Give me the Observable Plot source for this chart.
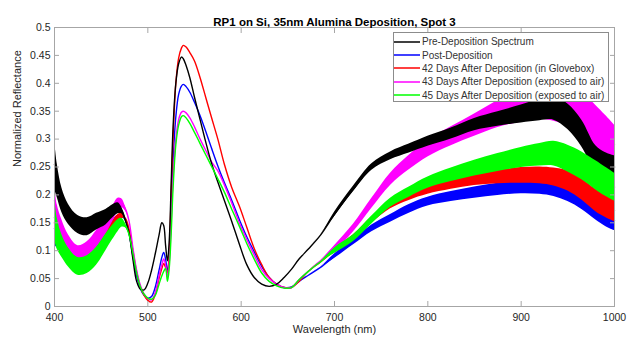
<!DOCTYPE html>
<html>
<head>
<meta charset="utf-8">
<script src="https://cdn.jsdelivr.net/npm/d3@7"></script>
<script src="https://cdn.jsdelivr.net/npm/@observablehq/plot@0.6"></script>
<style>
  html, body { margin: 0; padding: 0; background: #fff; }
  #wrap { position: relative; width: 627px; height: 342px; font-family: "Liberation Sans", Arial, sans-serif; }
  #legend { position: absolute; left: 393px; top: 32px; width: 216px; height: 70px; border: 1px solid #8c8c8c; background: #fff; box-sizing: border-box; padding-top: 2px; }
  .row { display: flex; align-items: center; height: 13.4px; font-size: 10px; color: #333; white-space: nowrap; }
  .row svg { display: block; margin-right: 2px; flex: none; }
</style>
</head>
<body>
<div id="wrap"><div id="chart"></div><div id="legend"></div></div>
<script>
const title = "RP1 on Si, 35nm Alumina Deposition, Spot 3";
const xLabel = "Wavelength (nm)";
const yLabel = "Normalized Reflectance";
const xTicks = [400, 500, 600, 700, 800, 900, 1000];
const yTicks = [0, 0.05, 0.1, 0.15, 0.2, 0.25, 0.3, 0.35, 0.4, 0.45, 0.5];

const seriesNames = [
  "Pre-Deposition Spectrum",
  "Post-Deposition",
  "42 Days After Deposition (in Glovebox)",
  "43 Days After Deposition (exposed to air)",
  "45 Days After Deposition (exposed to air)"
];
const seriesColors = ["#000000", "#0000ff", "#ff0000", "#ff00ff", "#00ff00"];

const wavelength = [
  400,403,408,415,425,435,445,455,462,468,
  472,476,480,484,488,492,496,500,504,508,
  512,515,517,519,521,523,525,527,530,533,
  536,538,541,545,550,556,562,568,575,582,
  590,598,606,614,622,630,638,646,654,662,
  672,685,700,720,740,760,780,800,825,850,
  875,900,920,935,950,965,980,990,1000
];

const preDeposition = [
  0.255,0.225,0.19,0.165,0.147,0.143,0.152,0.16,0.17,0.176,
  0.172,0.155,0.13,0.085,0.045,0.031,0.03,0.042,0.065,0.095,
  0.128,0.15,0.145,0.11,0.082,0.12,0.22,0.32,0.40,0.435,
  0.447,0.444,0.432,0.41,0.375,0.335,0.295,0.258,0.223,0.19,
  0.152,0.112,0.075,0.052,0.04,0.036,0.04,0.052,0.067,0.085,
  0.103,0.128,0.165,0.21,0.25,0.27,0.283,0.296,0.31,0.326,
  0.336,0.345,0.352,0.355,0.34,0.31,0.265,0.255,0.25
];
const preNoise = [
  0.045,0.03,0.022,0.018,0.016,0.016,0.015,0.014,0.012,0.01,
  0.006,0.003,0,0,0,0,0,0,0,0,
  0,0,0,0,0,0,0,0,0,0,
  0,0,0,0,0,0,0,0,0,0,
  0,0,0,0,0,0,0,0,0,0,
  0,0,0.004,0.005,0.006,0.007,0.008,0.009,0.01,0.011,
  0.013,0.016,0.019,0.021,0.023,0.024,0.023,0.021,0.02
];

const postDeposition = [
  0.14,0.12,0.105,0.093,0.085,0.09,0.105,0.125,0.145,0.158,
  0.162,0.155,0.13,0.09,0.055,0.032,0.02,0.015,0.018,0.035,
  0.065,0.088,0.097,0.085,0.065,0.09,0.17,0.26,0.34,0.38,
  0.395,0.398,0.394,0.384,0.366,0.342,0.314,0.285,0.252,0.222,
  0.19,0.156,0.125,0.098,0.072,0.052,0.04,0.034,0.035,0.045,
  0.056,0.07,0.09,0.115,0.14,0.158,0.175,0.188,0.197,0.204,
  0.21,0.214,0.214,0.211,0.203,0.19,0.172,0.162,0.154
];
const postNoise = [
  0.03,0.015,0.01,0.01,0.01,0.01,0.01,0.01,0.008,0.006,
  0.004,0,0,0,0,0,0,0,0,0,
  0,0,0,0,0,0,0,0,0,0,
  0,0,0,0,0,0,0,0,0,0,
  0,0,0,0,0,0,0,0,0,0,
  0,0,0.004,0.005,0.006,0.007,0.008,0.008,0.009,0.01,
  0.011,0.012,0.013,0.014,0.015,0.016,0.017,0.018,0.018
];

const days42 = [
  0.15,0.13,0.112,0.095,0.083,0.085,0.1,0.122,0.142,0.157,
  0.162,0.158,0.138,0.1,0.062,0.035,0.02,0.011,0.008,0.022,
  0.05,0.068,0.077,0.07,0.06,0.1,0.2,0.3,0.4,0.445,
  0.463,0.468,0.465,0.455,0.44,0.41,0.375,0.34,0.3,0.255,
  0.213,0.18,0.142,0.104,0.075,0.052,0.04,0.034,0.034,0.045,
  0.063,0.08,0.1,0.123,0.155,0.182,0.198,0.21,0.22,0.228,
  0.232,0.235,0.235,0.232,0.225,0.21,0.19,0.18,0.172
];
const days42Noise = [
  0.012,0.012,0.012,0.012,0.012,0.012,0.012,0.012,0.01,0.008,
  0.005,0,0,0,0,0,0,0,0,0,
  0,0,0,0,0,0,0,0,0,0,
  0,0,0,0,0,0,0,0,0,0,
  0,0,0,0,0,0,0,0,0,0,
  0,0,0.004,0.005,0.006,0.007,0.008,0.009,0.01,0.011,
  0.012,0.014,0.015,0.016,0.018,0.019,0.02,0.02,0.02
];

const days43 = [
  0.19,0.16,0.135,0.11,0.093,0.1,0.12,0.145,0.165,0.182,
  0.185,0.175,0.152,0.105,0.065,0.038,0.022,0.014,0.012,0.025,
  0.055,0.075,0.085,0.075,0.052,0.08,0.15,0.23,0.3,0.335,
  0.348,0.35,0.347,0.338,0.322,0.30,0.28,0.26,0.243,0.218,
  0.185,0.15,0.12,0.092,0.066,0.05,0.04,0.034,0.034,0.048,
  0.063,0.082,0.104,0.14,0.185,0.228,0.258,0.283,0.305,0.325,
  0.345,0.36,0.37,0.372,0.365,0.345,0.32,0.305,0.29
];
const days43Noise = [
  0.03,0.022,0.02,0.018,0.016,0.016,0.016,0.016,0.014,0.012,
  0.008,0.004,0,0,0,0,0,0,0,0,
  0,0,0,0,0,0,0,0,0,0,
  0,0,0,0,0,0,0,0,0,0,
  0,0,0,0,0,0,0,0,0,0,
  0,0,0.005,0.007,0.009,0.011,0.013,0.015,0.017,0.02,
  0.024,0.03,0.035,0.04,0.042,0.042,0.04,0.038,0.035
];

const days45 = [
  0.16,0.13,0.108,0.088,0.072,0.075,0.09,0.115,0.132,0.145,
  0.15,0.145,0.128,0.095,0.06,0.035,0.022,0.015,0.013,0.02,
  0.04,0.055,0.063,0.068,0.045,0.07,0.13,0.21,0.29,0.325,
  0.34,0.342,0.338,0.328,0.312,0.292,0.272,0.252,0.229,0.205,
  0.174,0.144,0.113,0.085,0.06,0.045,0.037,0.033,0.034,0.048,
  0.063,0.08,0.1,0.122,0.155,0.186,0.205,0.222,0.236,0.248,
  0.258,0.267,0.272,0.274,0.265,0.252,0.235,0.224,0.214
];
const days45Noise = [
  0.04,0.028,0.02,0.017,0.016,0.016,0.016,0.015,0.013,0.011,
  0.008,0.004,0,0,0,0,0,0,0,0,
  0,0,0,0,0,0,0,0,0,0,
  0,0,0,0,0,0,0,0,0,0,
  0,0,0,0,0,0,0,0,0,0,
  0,0,0.005,0.006,0.007,0.008,0.009,0.01,0.012,0.014,
  0.016,0.018,0.02,0.022,0.024,0.025,0.026,0.026,0.025
];

const seriesValues = [preDeposition, postDeposition, days42, days43, days45];
const seriesNoise = [preNoise, postNoise, days42Noise, days43Noise, days45Noise];
const drawOrder = [1, 2, 3, 0, 4];

const rowsFor = (i) => wavelength.map((w, k) => ({
  w, v: seriesValues[i][k], lo: seriesValues[i][k] - seriesNoise[i][k], hi: seriesValues[i][k] + seriesNoise[i][k]
}));

const dataMarks = [];
for (const i of drawOrder) {
  const rows = rowsFor(i);
  dataMarks.push(Plot.areaY(rows, {x: "w", y1: "lo", y2: "hi", fill: seriesColors[i], curve: "catmull-rom"}));
  dataMarks.push(Plot.lineY(rows, {x: "w", y: "v", stroke: seriesColors[i], strokeWidth: 1.4, curve: "catmull-rom"}));
}

const fmtY = d => String(+d.toFixed(2));
const fmtX = d => String(d);
const axisGray = "#a6a6a6";
const textGray = "#262626";

const chart = Plot.plot({
  width: 627,
  height: 342,
  marginLeft: 54,
  marginRight: 13,
  marginTop: 27,
  marginBottom: 36,
  style: {fontFamily: "'Liberation Sans', Arial, sans-serif", fontSize: "10.5px", background: "#fff", overflow: "visible"},
  x: {domain: [400, 1000]},
  y: {domain: [0, 0.5]},
  marks: [
    ...dataMarks,
    Plot.frame({stroke: axisGray}),
    Plot.axisX(xTicks, {anchor: "bottom", tickSize: -5, tickPadding: 12, tickFormat: fmtX, stroke: axisGray, fill: textGray, label: null}),
    Plot.axisX(xTicks, {anchor: "top", tickSize: -5, tickFormat: () => "", stroke: axisGray, label: null}),
    Plot.axisY(yTicks, {anchor: "left", tickSize: -5, tickPadding: 9, tickFormat: fmtY, stroke: axisGray, fill: textGray, label: null}),
    Plot.axisY(yTicks, {anchor: "right", tickSize: -5, tickFormat: () => "", stroke: axisGray, label: null}),
    Plot.text([title], {frameAnchor: "top", dy: -10, fontWeight: "bold", fontSize: 11.5, fill: "#000"}),
    Plot.text([xLabel], {frameAnchor: "bottom", dy: 26, fontSize: 11, fill: textGray}),
    Plot.text([yLabel], {frameAnchor: "left", dx: -37, rotate: -90, fontSize: 11, fill: textGray})
  ]
});
document.getElementById("chart").appendChild(chart);

const SVGNS = "http://www.w3.org/2000/svg";
const legend = document.getElementById("legend");
seriesNames.forEach((name, i) => {
  const row = document.createElement("div");
  row.className = "row";
  const sw = document.createElementNS(SVGNS, "svg");
  sw.setAttribute("width", "26");
  sw.setAttribute("height", "6");
  const ln = document.createElementNS(SVGNS, "line");
  ln.setAttribute("x1", "0"); ln.setAttribute("x2", "26");
  ln.setAttribute("y1", "3"); ln.setAttribute("y2", "3");
  ln.setAttribute("stroke", seriesColors[i]);
  ln.setAttribute("stroke-width", "1.5");
  sw.appendChild(ln);
  const label = document.createElement("span");
  label.textContent = name;
  row.appendChild(sw);
  row.appendChild(label);
  legend.appendChild(row);
});
</script>
</body>
</html>
